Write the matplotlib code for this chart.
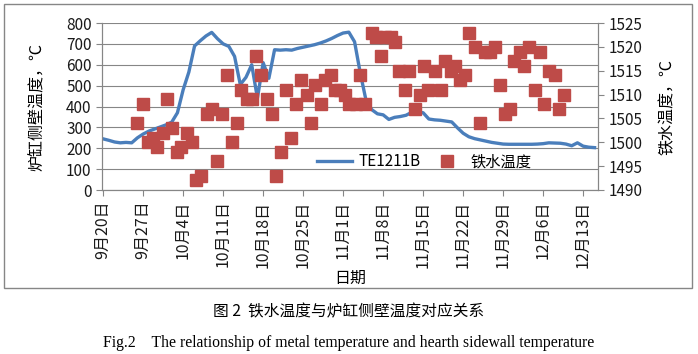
import matplotlib
matplotlib.use('Agg')
import matplotlib.pyplot as plt
from matplotlib.patches import Rectangle
from matplotlib.lines import Line2D

plt.rcParams['font.family'] = ['Noto Sans CJK SC', 'DejaVu Sans']

# hearth sidewall temperature TE1211B, one value per day from 9月20日
wall_temp = [245, 238, 230, 226, 228, 226, 250, 268, 282, 292,
             302, 312, 325, 370, 480, 565, 690, 715, 738, 755,
             725, 700, 688, 640, 505, 540, 600, 440, 610, 535,
             672, 670, 672, 670, 678, 684, 690, 696, 704, 714,
             726, 740, 752, 756, 710, 560, 430, 385, 365, 360,
             338, 348, 352, 358, 372, 375, 370, 340, 336, 334,
             330, 326, 298, 272, 255, 246, 240, 234, 228, 224,
             220, 219, 219, 219, 219, 219, 220, 222, 226, 225,
             224, 220, 212, 226, 210, 205, 203]
wall_day = list(range(len(wall_temp)))

# hot metal temperature samples (days since 9月20日, temperature)
iron_day = [6.0, 6.9, 7.8, 8.8, 9.5, 10.4, 11.2, 12.1, 13.0, 13.7,
            14.6, 15.6, 16.3, 17.2, 18.2, 19.1, 20.0, 20.8, 21.6, 22.5,
            23.4, 24.2, 25.1, 26.1, 26.8, 27.7, 28.6, 29.6, 30.3, 31.2,
            32.0, 32.9, 33.8, 34.7, 35.6, 36.4, 37.1, 38.1, 38.9, 39.8,
            40.6, 41.5, 42.4, 43.0, 44.2, 45.0, 45.9, 47.0, 47.8, 48.6,
            49.4, 50.4, 51.1, 51.7, 52.9, 53.6, 54.6, 55.5, 56.2, 56.9,
            58.1, 59.2, 59.9, 60.8, 61.6, 62.4, 63.3, 64.1, 65.0, 65.9,
            66.8, 67.7, 68.5, 69.4, 70.3, 71.2, 71.9, 72.9, 73.7, 74.6,
            75.5, 76.4, 77.2, 78.1, 79.0, 79.7, 80.6]
iron_temp = [1504, 1508, 1500, 1501, 1499, 1502, 1509, 1503, 1498, 1499,
             1502, 1500, 1492, 1493, 1506, 1507, 1496, 1506, 1514, 1500,
             1504, 1511, 1509, 1509, 1518, 1514, 1509, 1506, 1493, 1498,
             1511, 1501, 1508, 1513, 1510, 1504, 1512, 1508, 1513, 1514,
             1511, 1511, 1510, 1508, 1508, 1514, 1508, 1523, 1522, 1518,
             1522, 1522, 1521, 1515, 1511, 1515, 1507, 1510, 1516, 1511,
             1515, 1511, 1517, 1515, 1516, 1513, 1514, 1523, 1520, 1504,
             1519, 1519, 1520, 1512, 1506, 1507, 1517, 1519, 1516, 1520,
             1511, 1519, 1508, 1515, 1514, 1507, 1510]

tick_days = [0, 7, 14, 21, 28, 35, 42, 49, 56, 63, 70, 77, 84]
tick_labels = ['9月20日', '9月27日', '10月4日', '10月11日', '10月18日', '10月25日',
               '11月1日', '11月8日', '11月15日', '11月22日', '11月29日', '12月6日',
               '12月13日']

blue = '#4A7EBB'
red = '#BE4B48'
gray = '#868686'

fig = plt.figure(figsize=(6.98, 3.54), dpi=100)
fig.patches.append(Rectangle((4/698, 1-288/354), 688/698, 284/354,
                             transform=fig.transFigure, fill=False,
                             edgecolor=gray, lw=1))

ax1 = fig.add_axes([102/698, 1-190/354, 496/698, 167/354])
ax1.plot(wall_day, wall_temp, color=blue, lw=2.4, zorder=3)
ax1.set_ylim(0, 800)
ax1.set_yticks(range(0, 801, 100))
ax1.set_xlim(-0.2, 86.6)
ax1.set_xticks(tick_days)
ax1.set_xticklabels(tick_labels, rotation=90, fontsize=11.5)
ax1.grid(axis='y', color=gray, lw=0.8)
ax1.set_axisbelow(True)
ax1.set_ylabel('炉缸侧壁温度，℃', fontsize=11.5)
ax1.yaxis.set_label_coords(-0.115, 0.5)
ax1.set_xlabel('日期', fontsize=11.5)
ax1.xaxis.set_label_coords(0.5, -0.479)

ax2 = ax1.twinx()
ax2.plot(iron_day, iron_temp, 's', color=red, ms=8, mec=red, lw=0)
ax2.set_ylim(1490, 1525)
ax2.set_yticks(range(1490, 1526, 5))
ax2.set_ylabel('铁水温度，℃', fontsize=11.5)
ax2.yaxis.set_label_coords(1.123, 0.5)

for ax in (ax1, ax2):
    ax.spines['top'].set_visible(False)
    for s in ('left', 'right', 'bottom'):
        ax.spines[s].set_color(gray)
    ax.tick_params(colors=gray, labelcolor='#1a1a1a', labelsize=11, length=4)
ax1.tick_params(axis='x', labelsize=11.5)

handles = [Line2D([], [], color=blue, lw=2.4),
           Line2D([], [], marker='s', color=red, ms=8, lw=0)]
ax2.legend(handles, ['TE1211B', '铁水温度'], ncol=2, frameon=False,
           loc='center', bbox_to_anchor=(0.65, 0.17), fontsize=11,
           handlelength=2.3, handletextpad=0.4, columnspacing=0.6)

fig.text(0.5, 1-312/354, '图 2  铁水温度与炉缸侧壁温度对应关系', ha='center',
         va='center', fontsize=11.3)
fig.text(0.5, 1-343/354,
         'Fig.2    The relationship of metal temperature and hearth sidewall temperature',
         ha='center', va='center', fontsize=11.3, family='Liberation Serif')

fig.savefig('out.png', dpi=100)
